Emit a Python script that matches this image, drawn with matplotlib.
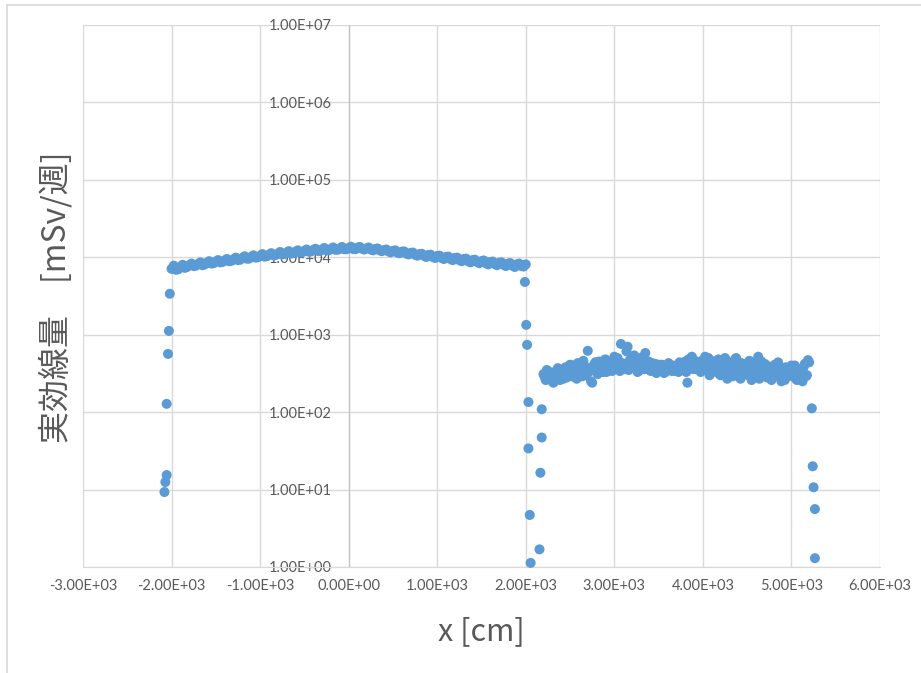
import numpy as np
import matplotlib
matplotlib.use("Agg")
import matplotlib.pyplot as plt
from matplotlib.ticker import FixedLocator, FuncFormatter
from matplotlib.lines import Line2D

plt.rcParams["font.family"] = ["Noto Sans CJK JP", "DejaVu Sans"]

# main plateau, x = -2000 .. 2000 cm (two interleaved sets)
x_main = list(range(-2000, 2001, 50))
y_main = [
    7100, 6900, 7500, 7300, 7900, 7700, 8200, 7900, 8500, 8300,
    8800, 8600, 9100, 8900, 9400, 9200, 9800, 9600, 10100, 9900,
    10400, 10200, 10800, 10600, 11100, 10900, 11500, 11200, 11800, 11500,
    12100, 11800, 12400, 12100, 12600, 12300, 12800, 12500, 13000, 12700,
    13200, 12800, 13300, 12900, 13000, 12600, 12800, 12300, 12400, 11900,
    12100, 11500, 11800, 11200, 11400, 10800, 11000, 10500, 10700, 10100,
    10400, 9800, 10100, 9500, 9800, 9200, 9500, 8900, 9200, 8700,
    8900, 8400, 8700, 8200, 8500, 8000, 8300, 7800, 8100, 7700,
    8100,
]
x_main_b = list(range(-1975, 2000, 50))
y_main_b = [
    7800, 7000, 8000, 7500, 8300, 7800, 8600, 8100, 8900, 8400,
    9200, 8700, 9500, 9000, 9900, 9300, 10300, 9600, 10600, 10000,
    11000, 10300, 11300, 10700, 11700, 11000, 12000, 11300, 12300, 11600,
    12600, 11900, 12900, 12100, 13200, 12300, 13400, 12500, 13600, 12700,
    13700, 12700, 13600, 12600, 13400, 12300, 13000, 12000, 12600, 11600,
    12300, 11300, 11900, 10900, 11500, 10500, 11100, 10100, 10800, 9800,
    10500, 9500, 10200, 9200, 9900, 8900, 9600, 8600, 9300, 8400,
    9100, 8100, 8800, 7900, 8600, 7700, 8400, 7500, 8300, 7600,
]

# second plateau, x = 2200 .. 5200 cm (two interleaved sets)
x_far = list(range(2200, 5201, 25))
y_far = [
    310, 260, 340, 280, 250, 330, 290, 360, 300, 270,
    380, 320, 410, 290, 350, 270, 380, 330, 460, 300,
    620, 360, 240, 420, 350, 450, 390, 330, 480, 370,
    420, 340, 520, 390, 450, 760, 410, 360, 700, 470,
    380, 540, 420, 340, 460, 390, 580, 370, 350, 430,
    400, 320, 410, 360, 380, 330, 350, 400, 340, 370,
    390, 330, 420, 360, 450, 240, 380, 520, 470, 360,
    410, 330, 430, 520, 350, 300, 460, 390, 330, 480,
    300, 410, 500, 270, 380, 440, 320, 500, 350, 270,
    420, 380, 310, 460, 260, 390, 340, 520, 290, 360,
    420, 280, 330, 260, 370, 300, 440, 280, 320, 260,
    350, 310, 400, 290, 270, 360, 330, 250, 420, 300,
    440,
]
x_far_b = list(range(2212, 5200, 25))
y_far_b = [
    290, 350, 270, 320, 240, 300, 370, 260, 340, 310,
    280, 360, 330, 400, 310, 430, 350, 290, 400, 360,
    330, 250, 390, 440, 310, 400, 360, 470, 330, 410,
    380, 440, 360, 500, 340, 430, 390, 610, 350, 450,
    400, 470, 330, 420, 510, 360, 400, 450, 340, 390,
    420, 350, 370, 410, 320, 380, 430, 350, 400, 340,
    370, 440, 350, 410, 330, 480, 390, 360, 440, 400,
    350, 460, 380, 410, 500, 330, 420, 360, 450, 310,
    390, 350, 460, 330, 420, 290, 480, 360, 310, 430,
    340, 400, 300, 370, 440, 320, 380, 270, 450, 330,
    300, 390, 340, 280, 410, 320, 360, 250, 340, 380,
    290, 370, 330, 400, 260, 350, 310, 380, 290, 470,
]

# fall-off points at the edges
x_edge = [-2020, -2030, -2040, -2055, -2055, -2070, -2080,
          1990, 2005, 2015, 2030, 2030, 2045, 2055,
          2180, 2180, 2165, 2155,
          5230, 5240, 5250, 5265, 5265]
y_edge = [3380, 1120, 565, 128, 15.4, 12.5, 9.3,
          4800, 1340, 740, 135, 34, 4.7, 1.13,
          109, 47, 16.5, 1.69,
          112, 20, 10.7, 5.6, 1.3]

x_ticks = list(range(-3000, 6001, 1000))
y_ticks = [1e0, 1e1, 1e2, 1e3, 1e4, 1e5, 1e6, 1e7]

blue = "#5B9BD5"
text_gray = "#595959"
grid_gray = "#D9D9D9"

fig = plt.figure(figsize=(9.21, 6.73), dpi=100)
ax = fig.add_axes([83 / 921, 1 - 567 / 673, 797 / 921, 542 / 673])

series = [(x_main, y_main), (x_main_b, y_main_b), (x_far, y_far),
          (x_far_b, y_far_b), (x_edge, y_edge)]
for xs, ys in series:
    ax.scatter(xs, ys, s=52, color=blue, edgecolors="none", zorder=3, clip_on=False)

ax.set_yscale("log")
ax.set_xlim(-3000, 6000)
ax.set_ylim(1, 1e7)
ax.xaxis.set_major_locator(FixedLocator(x_ticks))
ax.yaxis.set_major_locator(FixedLocator(y_ticks))
ax.yaxis.set_minor_locator(FixedLocator([]))
fmt = FuncFormatter(lambda v, p: f"{v:.2E}")
ax.xaxis.set_major_formatter(fmt)
ax.yaxis.set_major_formatter(fmt)

ax.grid(True, color=grid_gray, linewidth=1.0, zorder=0)
ax.set_axisbelow(True)
for side in ["top", "right"]:
    ax.spines[side].set_visible(False)
ax.spines["left"].set_position(("data", 0))
ax.spines["left"].set_color("#BFBFBF")
ax.spines["bottom"].set_color(grid_gray)

ax.tick_params(axis="both", length=0, labelsize=10.5, labelcolor=text_gray)
ax.tick_params(axis="y", pad=12)
ax.tick_params(axis="x", pad=9)
for lab in ax.get_xticklabels() + ax.get_yticklabels():
    lab.set_family(["Lato", "DejaVu Sans"])

fig.text(56 / 921, 1 - 297 / 673, "実効線量　[mSv/週]", rotation=90,
         ha="center", va="center", fontsize=23, color=text_gray)
fig.text(481 / 921, 1 - 632 / 673, "x [cm]", ha="center", va="center",
         fontsize=22, color=text_gray)

# chart frame
fig.add_artist(Line2D([7 / 921, 1], [1 - 5 / 673, 1 - 5 / 673],
                      transform=fig.transFigure, color=grid_gray, linewidth=1.2))
fig.add_artist(Line2D([7 / 921, 7 / 921], [0, 1 - 5 / 673],
                      transform=fig.transFigure, color=grid_gray, linewidth=1.2))

fig.savefig("out.png", dpi=100)
